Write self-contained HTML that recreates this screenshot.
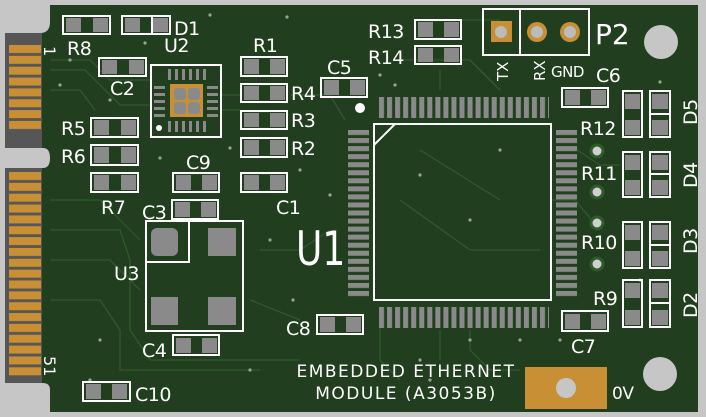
<!DOCTYPE html>
<html><head><meta charset="utf-8"><style>
html,body{margin:0;padding:0;background:#c6c6c6;}
svg{display:block}
text{font-family:"DejaVu Sans","Liberation Sans",sans-serif;fill:#fff}
</style></head><body>
<svg width="706" height="417" viewBox="0 0 706 417" xmlns="http://www.w3.org/2000/svg">
<defs>
<pattern id="pv" x="379" y="0" width="8.05" height="10" patternUnits="userSpaceOnUse"><rect x="0" y="0" width="5" height="10" fill="#8a8a8a"/></pattern>
<pattern id="ph" x="0" y="130" width="10" height="8.05" patternUnits="userSpaceOnUse"><rect x="0" y="0" width="10" height="5" fill="#8a8a8a"/></pattern>
<pattern id="gold" x="0" y="45" width="10" height="10.85" patternUnits="userSpaceOnUse"><rect x="0" y="0" width="10" height="8" fill="#c98f35"/></pattern>
<pattern id="gold2" x="0" y="172" width="10" height="10.85" patternUnits="userSpaceOnUse"><rect x="0" y="0" width="10" height="8" fill="#c98f35"/></pattern>
</defs>
<rect width="706" height="417" fill="#c6c6c6"/>
<path d="M50 5 H698 V412 H50 V390 Q50 383 43 383 H5 V168 H43 Q50 168 50 158 Q50 148 43 148 H5 V33 H40 Q50 33 50 22 Z" fill="#213f1e"/>
<rect x="5" y="33" width="37" height="115" fill="#565656"/>
<rect x="5" y="168" width="37" height="215" fill="#565656"/>
<rect x="9" y="45" width="32" height="86" fill="url(#gold)"/>
<rect x="9" y="172" width="32" height="205" fill="url(#gold2)"/>
<g stroke="#2f5a2a" stroke-width="1.3" fill="none">
<path d="M50 60 H90 L110 80 H150"/><path d="M50 70 H85 L120 105 H150"/><path d="M50 90 H80 L95 110"/>
<path d="M50 200 H100 L140 240"/><path d="M50 230 H120 L130 260 V330 L150 360 H300"/>
<path d="M50 260 H110 L140 290"/><path d="M50 300 H100 L120 330 V370 H260"/>
<path d="M221 95 H240"/><path d="M221 110 H240"/><path d="M290 95 H330 L345 120"/>
<path d="M380 320 V360 L400 380"/><path d="M440 330 V360"/><path d="M470 330 V350 L490 370 H520"/>
<path d="M500 20 H460"/><path d="M551 200 H575 L600 230"/><path d="M577 150 L600 165 H620"/>
<path d="M400 200 L470 250 H540"/><path d="M420 150 L500 200"/><path d="M250 300 L300 320"/>
<path d="M260 250 H300 L330 230"/><path d="M440 70 V90"/><path d="M400 60 H470 L500 90"/>
</g>
<g fill="#9aa39a">
<circle cx="210" cy="15" r="1.6"/><circle cx="287" cy="17" r="1.6"/><circle cx="145" cy="43" r="1.6"/><circle cx="70" cy="60" r="1.6"/>
<circle cx="60" cy="85" r="1.6"/><circle cx="110" cy="100" r="1.6"/><circle cx="160" cy="158" r="1.6"/><circle cx="230" cy="148" r="1.6"/>
<circle cx="300" cy="170" r="1.6"/><circle cx="330" cy="195" r="1.6"/><circle cx="270" cy="240" r="1.6"/><circle cx="293" cy="300" r="1.6"/>
<circle cx="420" cy="175" r="1.6"/><circle cx="470" cy="220" r="1.6"/><circle cx="500" cy="150" r="1.6"/><circle cx="420" cy="360" r="1.6"/>
<circle cx="470" cy="340" r="1.6"/><circle cx="520" cy="340" r="1.6"/><circle cx="100" cy="340" r="1.6"/><circle cx="90" cy="380" r="1.6"/>
<circle cx="250" cy="370" r="1.6"/><circle cx="640" cy="280" r="1.6"/><circle cx="660" cy="82" r="1.6"/><circle cx="380" cy="75" r="1.6"/>
<circle cx="395" cy="85" r="1.6"/><circle cx="430" cy="380" r="1.6"/><circle cx="560" cy="340" r="1.6"/>
</g>
<g fill="none" stroke="#fff" stroke-width="2">
<rect x="63" y="16" width="47" height="18"/><rect x="122" y="16" width="48" height="18"/><line x1="152" y1="16" x2="152" y2="34"/>
<rect x="99" y="58" width="47" height="18"/><rect x="151" y="65" width="70" height="72"/>
<rect x="241" y="57" width="46" height="19"/><rect x="241" y="84" width="46" height="18"/><rect x="241" y="111" width="46" height="18"/><rect x="241" y="138" width="46" height="19"/>
<rect x="91" y="118" width="47" height="19"/><rect x="91" y="145" width="47" height="20"/><rect x="91" y="173" width="47" height="19"/>
<rect x="173" y="173" width="46" height="19"/><rect x="241" y="173" width="46" height="19"/><rect x="172" y="200" width="46" height="19"/>
<rect x="321" y="78" width="46" height="19"/><rect x="415" y="20" width="46" height="19"/><rect x="415" y="46" width="46" height="18"/>
<rect x="483" y="9" width="106" height="46"/><line x1="520" y1="9" x2="520" y2="55"/>
<rect x="562" y="88" width="46" height="19"/>
<rect x="374" y="124" width="177" height="176"/><line x1="374" y1="145" x2="395" y2="124"/>
<rect x="623" y="91" width="19" height="46"/><rect x="650" y="91" width="20" height="46"/><line x1="650" y1="114" x2="670" y2="114"/>
<rect x="623" y="152" width="19" height="45"/><rect x="650" y="152" width="20" height="45"/><line x1="650" y1="174" x2="670" y2="174"/>
<rect x="623" y="222" width="19" height="46"/><rect x="650" y="222" width="20" height="46"/><line x1="650" y1="245" x2="670" y2="245"/>
<rect x="623" y="280" width="19" height="47"/><rect x="650" y="280" width="20" height="47"/><line x1="650" y1="303" x2="670" y2="303"/>
<rect x="562" y="311" width="46" height="20"/><rect x="317" y="315" width="46" height="19"/>
<rect x="146" y="221" width="97" height="110"/><rect x="146" y="221" width="43" height="41"/>
<rect x="173" y="335" width="46" height="20"/><rect x="83" y="382" width="47" height="19"/>
</g>
<g fill="#8a8a8a">
<rect x="66" y="18" width="15" height="14"/><rect x="93" y="18" width="15" height="14"/>
<rect x="125" y="18" width="15" height="14"/><rect x="153" y="18" width="15" height="14"/>
<rect x="102" y="60" width="15" height="14"/><rect x="129" y="60" width="15" height="14"/>
<rect x="244" y="59" width="15" height="15"/><rect x="270" y="59" width="15" height="15"/>
<rect x="244" y="86" width="15" height="14"/><rect x="270" y="86" width="15" height="14"/>
<rect x="244" y="113" width="15" height="14"/><rect x="270" y="113" width="15" height="14"/>
<rect x="244" y="140" width="15" height="15"/><rect x="270" y="140" width="15" height="15"/>
<rect x="94" y="120" width="15" height="15"/><rect x="121" y="120" width="15" height="15"/>
<rect x="94" y="147" width="15" height="16"/><rect x="121" y="147" width="15" height="16"/>
<rect x="94" y="175" width="15" height="15"/><rect x="121" y="175" width="15" height="15"/>
<rect x="176" y="175" width="15" height="15"/><rect x="202" y="175" width="15" height="15"/>
<rect x="244" y="175" width="15" height="15"/><rect x="270" y="175" width="15" height="15"/>
<rect x="175" y="202" width="15" height="15"/><rect x="201" y="202" width="15" height="15"/>
<rect x="324" y="80" width="15" height="15"/><rect x="350" y="80" width="15" height="15"/>
<rect x="418" y="22" width="15" height="15"/><rect x="444" y="22" width="15" height="15"/>
<rect x="418" y="48" width="15" height="14"/><rect x="444" y="48" width="15" height="14"/>
<rect x="565" y="90" width="15" height="15"/><rect x="591" y="90" width="15" height="15"/>
<rect x="625" y="94" width="15" height="15"/><rect x="625" y="120" width="15" height="15"/>
<rect x="652" y="94" width="16" height="15"/><rect x="652" y="120" width="16" height="15"/>
<rect x="625" y="155" width="15" height="15"/><rect x="625" y="180" width="15" height="15"/>
<rect x="652" y="155" width="16" height="15"/><rect x="652" y="180" width="16" height="15"/>
<rect x="625" y="225" width="15" height="15"/><rect x="625" y="251" width="15" height="15"/>
<rect x="652" y="225" width="16" height="15"/><rect x="652" y="251" width="16" height="15"/>
<rect x="625" y="283" width="15" height="15"/><rect x="625" y="310" width="15" height="15"/>
<rect x="652" y="283" width="16" height="15"/><rect x="652" y="310" width="16" height="15"/>
<rect x="565" y="314" width="15" height="15"/><rect x="591" y="314" width="15" height="15"/>
<rect x="320" y="317" width="15" height="15"/><rect x="346" y="317" width="15" height="15"/>
<rect x="176" y="338" width="15" height="15"/><rect x="202" y="338" width="15" height="15"/>
<rect x="86" y="384" width="15" height="15"/><rect x="112" y="384" width="15" height="15"/>
<rect x="151" y="228" width="27" height="28" rx="6"/><rect x="208" y="228" width="28" height="28"/>
<rect x="151" y="297" width="27" height="28"/><rect x="208" y="297" width="28" height="28"/>
<rect x="379" y="97" width="170" height="21" fill="url(#pv)"/>
<rect x="379" y="307" width="170" height="21" fill="url(#pv)"/>
<rect x="348" y="130" width="21" height="168" fill="url(#ph)"/>
<rect x="556" y="130" width="21" height="168" fill="url(#ph)"/>
<rect x="168" y="69" width="3" height="11"/><rect x="175" y="69" width="3" height="11"/><rect x="182" y="69" width="3" height="11"/><rect x="189" y="69" width="3" height="11"/><rect x="196" y="69" width="3" height="11"/><rect x="203" y="69" width="3" height="11"/>
<rect x="168" y="121" width="3" height="11"/><rect x="175" y="121" width="3" height="11"/><rect x="182" y="121" width="3" height="11"/><rect x="189" y="121" width="3" height="11"/><rect x="196" y="121" width="3" height="11"/><rect x="203" y="121" width="3" height="11"/>
<rect x="154" y="86" width="11" height="3"/><rect x="154" y="93" width="11" height="3"/><rect x="154" y="100" width="11" height="3"/><rect x="154" y="107" width="11" height="3"/><rect x="154" y="114" width="11" height="3"/>
<rect x="207" y="86" width="11" height="3"/><rect x="207" y="93" width="11" height="3"/><rect x="207" y="100" width="11" height="3"/><rect x="207" y="107" width="11" height="3"/><rect x="207" y="114" width="11" height="3"/>
</g>
<rect x="170" y="84" width="33" height="33" fill="#c98f35"/>
<g fill="#8a8a8a"><rect x="174" y="88" width="12" height="12" rx="3"/><rect x="188" y="88" width="12" height="12" rx="3"/><rect x="174" y="102" width="12" height="12" rx="3"/><rect x="188" y="102" width="12" height="12" rx="3"/></g>
<circle cx="159" cy="128" r="3" fill="#fff"/>
<circle cx="360" cy="108" r="5" fill="#fff"/>
<rect x="491" y="21" width="21" height="21" fill="#c98f35"/><circle cx="501" cy="32" r="6" fill="#bbb"/>
<circle cx="537" cy="32" r="10" fill="#c98f35"/><circle cx="537" cy="32" r="6" fill="#bbb"/>
<circle cx="570" cy="32" r="10" fill="#c98f35"/><circle cx="570" cy="32" r="6" fill="#bbb"/>
<g fill="#d0d0d0" stroke="#2f5a2a" stroke-width="3"><circle cx="597" cy="151" r="6"/><circle cx="597" cy="192" r="6"/><circle cx="597" cy="223" r="6"/><circle cx="597" cy="264" r="6"/></g>
<circle cx="661" cy="42" r="17" fill="#c6c6c6"/><circle cx="660" cy="374" r="17" fill="#c6c6c6"/>
<rect x="525" y="367" width="82" height="42" fill="#c98f35"/><circle cx="566" cy="388" r="10" fill="#c6c6c6"/>
<g font-size="19" letter-spacing="-0.5">
<text x="67" y="55">R8</text><text x="174" y="35">D1</text><text x="164" y="52">U2</text><text x="110" y="95">C2</text>
<text x="253" y="52">R1</text><text x="291" y="100">R4</text><text x="291" y="127">R3</text><text x="291" y="155">R2</text>
<text x="61" y="135">R5</text><text x="61" y="163">R6</text><text x="101" y="214">R7</text>
<text x="186" y="169">C9</text><text x="276" y="214">C1</text><text x="142" y="219">C3</text>
<text x="327" y="74">C5</text><text x="368" y="38">R13</text><text x="368" y="64">R14</text>
<text x="596" y="82">C6</text><text x="580" y="135">R12</text><text x="581" y="180">R11</text>
<text x="581" y="249">R10</text><text x="593" y="305">R9</text>
<text x="571" y="353">C7</text><text x="286" y="335">C8</text><text x="114" y="280">U3</text>
<text x="142" y="357">C4</text><text x="135" y="401">C10</text>
<text x="612" y="399" font-size="17">0V</text>
<text x="551" y="77" font-size="15">GND</text>
<text transform="translate(697,125) rotate(-90)">D5</text>
<text transform="translate(697,188) rotate(-90)">D4</text>
<text transform="translate(697,254) rotate(-90)">D3</text>
<text transform="translate(697,318) rotate(-90)">D2</text>
</g>
<text x="595" y="44" font-size="28">P2</text>
<text transform="translate(296,265) scale(1,1.3)" font-size="36">U1</text>
<text transform="translate(508,81) rotate(-90)" font-size="15">TX</text>
<text transform="translate(545,81) rotate(-90)" font-size="15">RX</text>
<text transform="translate(44,46) rotate(90)" font-size="16">1</text>
<text transform="translate(44,356) rotate(90)" font-size="16">51</text>
<text x="406" y="377" font-size="17" text-anchor="middle" letter-spacing="1.5">EMBEDDED ETHERNET</text>
<text x="406" y="399" font-size="17" text-anchor="middle" letter-spacing="1.5">MODULE (A3053B)</text>
</svg>
</body></html>
